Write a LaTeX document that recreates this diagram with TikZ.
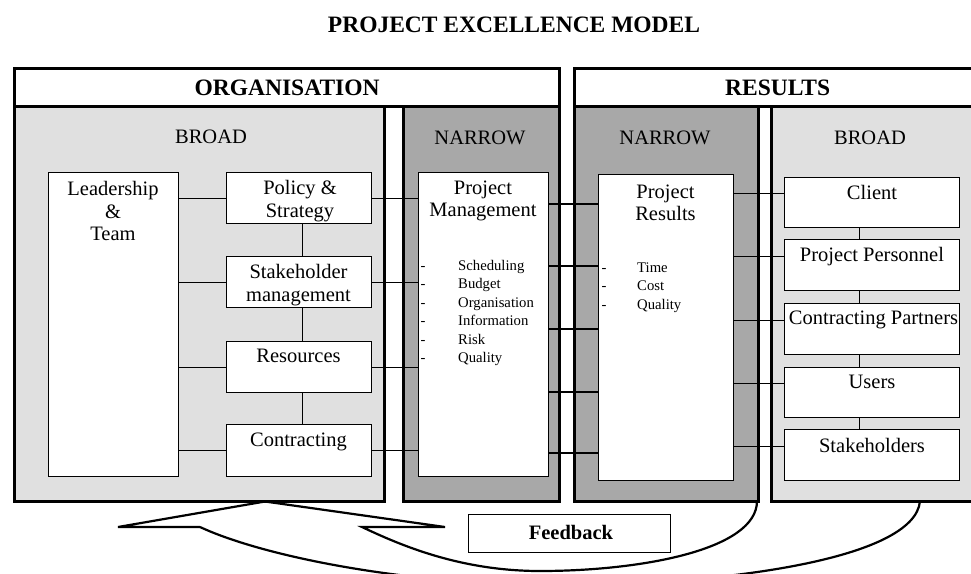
\documentclass[tikz,border=0pt]{standalone}
\usepackage{fontspec}
\setmainfont{Liberation Serif}
\usetikzlibrary{calc}
\definecolor{panelL}{RGB}{224,224,224}
\definecolor{panelD}{RGB}{168,168,168}
\begin{document}
\begin{tikzpicture}[x=1pt,y=-1pt,
  hdr/.style={draw, line width=3.2pt, fill=white, anchor=north west, inner sep=0pt, font=\fontsize{23.5}{26}\selectfont\bfseries},
  panel/.style={draw, line width=2.6pt, anchor=north west, inner sep=0pt},
  box/.style={draw, line width=1.4pt, fill=white, anchor=north west, inner sep=0pt},
  lbl/.style={font=\fontsize{20.5}{22.5}\selectfont, align=center, inner sep=0pt},
  sml/.style={font=\fontsize{14.7}{18.4}\selectfont, inner sep=0pt, text height=10pt, text depth=3pt},
  conn/.style={line width=1.3pt},
  fbline/.style={line width=2.2pt, line join=miter},
]
\clip (0,0) rectangle (971,573);
\fill[white] (0,0) rectangle (971,573);

% title
\node[font=\fontsize{23.5}{26}\selectfont\bfseries, inner sep=0pt] (title) at (514,25) {PROJECT EXCELLENCE MODEL};

% panels
\node[panel, fill=panelL, minimum width=370, minimum height=395] (obroad) at (13,105) {};
\node[panel, fill=panelD, minimum width=156, minimum height=395] (onarrow) at (402,105) {};
\node[panel, fill=panelD, minimum width=184, minimum height=395] (rnarrow) at (573,105) {};
\node[panel, fill=panelL, minimum width=220, minimum height=395] (rbroad) at (770,105) {};

% headers
\node[hdr, minimum width=545, minimum height=38] (org) at (13,67) {ORGANISATION};
\node[hdr, minimum width=406, minimum height=38] (resu) at (573,67) {RESULTS};

% section labels
\node[lbl] (obL) at (211,137) {BROAD};
\node[lbl] (onL) at (480,138) {NARROW};
\node[lbl] (rnL) at (665,138) {NARROW};
\node[lbl] (rbL) at (870,138) {BROAD};

% organisation broad boxes
\node[box, minimum width=130, minimum height=304] (lead) at (48,172) {};
\node[box, minimum width=145, minimum height=51] (pol) at (226,172) {};
\node[box, minimum width=145, minimum height=51] (sh) at (226,256) {};
\node[box, minimum width=145, minimum height=51] (res) at (226,341) {};
\node[box, minimum width=145, minimum height=52] (con) at (226,424) {};

% narrow boxes
\node[box, minimum width=130, minimum height=304] (pm) at (418,172) {};
\node[box, minimum width=135, minimum height=306] (pr) at (598,174) {};

% results broad boxes
\node[box, minimum width=175, minimum height=50] (cl) at (784,177) {};
\node[box, minimum width=175, minimum height=51] (pp) at (784,239) {};
\node[box, minimum width=175, minimum height=51] (cp) at (784,303) {};
\node[box, minimum width=175, minimum height=50] (us) at (784,367) {};
\node[box, minimum width=175, minimum height=51] (st) at (784,429) {};

% box texts
\node[lbl] (leadT) at (113,211) {Leadership\\\&\\Team};
\node[lbl] (polT) at (300,201) {Policy \&\\Strategy};
\node[lbl] (shT) at (298.5,285) {Stakeholder\\management};
\node[lbl] (resT) at (298.5,356) {Resources};
\node[lbl] (conT) at (298.5,442) {Contracting};
\node[lbl] (pmT) at (483,201) {Project\\Management};
\node[lbl] (prT) at (665.5,203) {Project\\Results};
\node[lbl] (clT) at (872,192) {Client};
\node[lbl] (ppT) at (872,257) {Project Personnel};
\node[lbl] (cpT) at (873.5,320) {Contracting Partners};
\node[lbl] (usT) at (872,382) {Users};
\node[lbl] (stT) at (872,445) {Stakeholders};

% bullet lists
\foreach \t/\yy [count=\i] in {Scheduling/267,Budget/285,Organisation/304,Information/322,Risk/341,Quality/359}{
  \node[sml] (pmd\i) at (423,\yy) {-};
  \node[sml, anchor=west] (pmi\i) at (458,\yy) {\t};
}
\foreach \t/\yy [count=\i] in {Time/269,Cost/287,Quality/306}{
  \node[sml] (prd\i) at (604,\yy) {-};
  \node[sml, anchor=west] (pri\i) at (637,\yy) {\t};
}

% connectors: leadership to broad boxes
\foreach \n in {pol,sh,res,con}{
  \draw[conn] (lead.east |- \n.west) -- (\n.west);
}
% vertical between broad boxes
\draw[conn] ([xshift=3pt]pol.south) -- ([xshift=3pt]sh.north);
\draw[conn] ([xshift=3pt]sh.south) -- ([xshift=3pt]res.north);
\draw[conn] ([xshift=3pt]res.south) -- ([xshift=3pt]con.north);
% broad boxes to project management
\foreach \n in {pol,sh,res,con}{
  \draw[conn] (\n.east) -- (\n.east -| pm.west);
}
% project management to project results
\foreach \yy in {204,266,329,392,453}{
  \draw[conn] (pm.east |- 0,\yy) -- (pr.west |- 0,\yy);
}
% project results to results boxes
\foreach \n in {cl,pp,cp,us,st}{
  \path ([yshift=9pt]\n.west) coordinate (c\n);
  \draw[conn] (c\n) -- (c\n -| pr.east);
}
% vertical between results boxes
\draw[conn] ([xshift=-12.5pt]cl.south) -- ([xshift=-12.5pt]pp.north);
\draw[conn] ([xshift=-12.5pt]pp.south) -- ([xshift=-12.5pt]cp.north);
\draw[conn] ([xshift=-12.5pt]cp.south) -- ([xshift=-12.5pt]us.north);
\draw[conn] ([xshift=-12.5pt]us.south) -- ([xshift=-12.5pt]st.north);

% feedback arrow
\draw[fbline] (200,527) -- (118,527) -- (265,501.5) -- (445,527) -- (362,527)
  .. controls (400,545) and (460,571) .. (540,571)
  .. controls (640,571) and (757,550) .. (757,501);
\draw[fbline] (920,501) .. controls (915,560) and (720,585) .. (560,585)
  .. controls (400,585) and (260,555) .. (200,527);

% feedback box
\node[box, line width=1.3pt, minimum width=202, minimum height=38] (fb) at (468,514) {};
\node[lbl, font=\fontsize{20.5}{22.5}\selectfont\bfseries] (fbT) at (571,532) {Feedback};
\end{tikzpicture}
\end{document}
